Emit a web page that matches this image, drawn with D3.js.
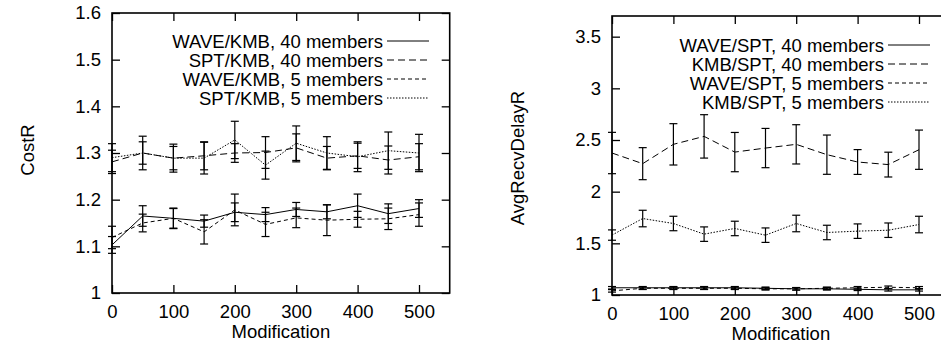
<!DOCTYPE html>
<meta charset="utf-8">
<script src="https://d3js.org/d3.v7.min.js"></script>
<style>
  body { margin: 0; background: #fff; }
  text { font-family: "Liberation Sans", Arial, sans-serif; }
</style>
<div id="chart"></div>
<script>

// x values shared by every series
const modification = [0, 50, 100, 150, 200, 250, 300, 350, 400, 450, 500];

// left panel: CostR
const waveKmb40    = [1.103, 1.165, 1.160, 1.154, 1.173, 1.168, 1.179, 1.174, 1.187, 1.170, 1.181];
const waveKmb40Err = [0.018, 0.022, 0.021, 0.013, 0.020, 0.015, 0.015, 0.015, 0.025, 0.021, 0.019];
const sptKmb40     = [1.281, 1.300, 1.289, 1.294, 1.300, 1.301, 1.311, 1.289, 1.294, 1.285, 1.292];
const sptKmb40Err  = [0.025, 0.024, 0.025, 0.030, 0.020, 0.034, 0.030, 0.025, 0.027, 0.030, 0.028];
const waveKmb5     = [1.119, 1.150, 1.160, 1.131, 1.178, 1.147, 1.161, 1.156, 1.158, 1.159, 1.168];
const waveKmb5Err  = [0.024, 0.019, 0.022, 0.026, 0.034, 0.026, 0.021, 0.033, 0.017, 0.023, 0.025];
const sptKmb5      = [1.290, 1.300, 1.289, 1.289, 1.328, 1.274, 1.321, 1.300, 1.292, 1.305, 1.300];
const sptKmb5Err   = [0.030, 0.036, 0.030, 0.034, 0.040, 0.030, 0.037, 0.035, 0.032, 0.040, 0.040];

// right panel: AvgRecvDelayR
const waveSpt40    = [1.07, 1.07, 1.07, 1.07, 1.07, 1.065, 1.06, 1.06, 1.055, 1.05, 1.05];
const waveSpt40Err = [0.012, 0.012, 0.012, 0.012, 0.012, 0.012, 0.012, 0.012, 0.012, 0.012, 0.012];
const kmbSpt40     = [2.374, 2.271, 2.458, 2.535, 2.383, 2.422, 2.458, 2.358, 2.287, 2.262, 2.406];
const kmbSpt40Err  = [0.20, 0.155, 0.20, 0.21, 0.19, 0.19, 0.19, 0.19, 0.12, 0.12, 0.19];
const waveSpt5     = [1.04, 1.065, 1.065, 1.065, 1.065, 1.06, 1.06, 1.065, 1.07, 1.075, 1.07];
const waveSpt5Err  = [0.012, 0.012, 0.012, 0.012, 0.012, 0.012, 0.012, 0.012, 0.012, 0.012, 0.012];
const kmbSpt5      = [1.58, 1.74, 1.692, 1.589, 1.644, 1.579, 1.692, 1.605, 1.618, 1.627, 1.682];
const kmbSpt5Err   = [0.05, 0.08, 0.07, 0.07, 0.07, 0.07, 0.08, 0.07, 0.07, 0.07, 0.08];

const xTicks = [0, 100, 200, 300, 400, 500];
const costTicks = [1, 1.1, 1.2, 1.3, 1.4, 1.5, 1.6];
const delayTicks = [1, 1.5, 2, 2.5, 3, 3.5];

// gnuplot line types
const dashes = ["none", "7,4", "4,3", "1.5,1.5"];

const svg = d3.select("#chart").append("svg")
    .attr("width", 941)
    .attr("height", 344);

const fontSize = 18.5;

function panel(opt) {
    const x = d3.scaleLinear().domain([0, 550]).range([opt.left, opt.right]);
    const y = d3.scaleLinear().domain(opt.yDomain).range([opt.bottom, opt.top]);
    const g = svg.append("g");

    // axes with inward ticks, gnuplot style
    const ax = (axis, tr, labels) => {
        const a = g.append("g").attr("transform", tr).call(axis);
        a.select(".domain").remove();
        a.selectAll("line").attr("stroke", "#000").attr("stroke-width", 1.3);
        a.selectAll("text").attr("font-size", fontSize).attr("fill", "#000");
        if (!labels) a.selectAll("text").remove();
        return a;
    };
    ax(d3.axisBottom(x).tickValues(xTicks).tickSizeInner(-8).tickPadding(12).tickFormat(d3.format("d")),
        `translate(0,${opt.bottom})`, true);
    ax(d3.axisTop(x).tickValues(xTicks).tickSizeInner(-8), `translate(0,${opt.top})`, false);
    ax(d3.axisLeft(y).tickValues(opt.yTicks).tickSizeInner(-8).tickPadding(11).tickFormat(d => String(d)),
        `translate(${opt.left},0)`, true);
    ax(d3.axisRight(y).tickValues(opt.yTicks).tickSizeInner(-8), `translate(${opt.right},0)`, false);

    g.append("rect")
        .attr("x", opt.left).attr("y", opt.top)
        .attr("width", opt.right - opt.left).attr("height", opt.bottom - opt.top)
        .attr("fill", "none").attr("stroke", "#000").attr("stroke-width", 1.6);

    // axis titles
    g.append("text")
        .attr("x", (opt.left + x(550)) / 2).attr("y", opt.bottom + 45)
        .attr("text-anchor", "middle").attr("font-size", fontSize)
        .text("Modification");
    g.append("text")
        .attr("transform", `translate(${opt.yLabelX},${opt.yLabelY}) rotate(-90)`)
        .attr("text-anchor", "middle").attr("font-size", fontSize)
        .text(opt.yLabel);

    const line = d3.line().x(d => x(d[0])).y(d => y(d[1]));

    opt.series.forEach((s, i) => {
        const pts = modification.map((m, j) => [m, s.values[j], s.err[j]]);
        g.append("path")
            .attr("d", line(pts))
            .attr("fill", "none").attr("stroke", "#000").attr("stroke-width", 1)
            .attr("stroke-dasharray", dashes[i]);

        // error bars
        const eb = g.append("g").attr("stroke", "#000").attr("stroke-width", 1.2);
        pts.forEach(p => {
            const cx = x(p[0]), lo = y(p[1] - p[2]), hi = y(p[1] + p[2]);
            eb.append("line").attr("x1", cx).attr("x2", cx).attr("y1", lo).attr("y2", hi);
            eb.append("line").attr("x1", cx - 4).attr("x2", cx + 4).attr("y1", lo).attr("y2", lo);
            eb.append("line").attr("x1", cx - 4).attr("x2", cx + 4).attr("y1", hi).attr("y2", hi);
        });

        // legend
        const ly = opt.legendY + i * 19;
        g.append("text")
            .attr("x", opt.legendX).attr("y", ly + 6.5)
            .attr("text-anchor", "end").attr("font-size", fontSize)
            .text(s.name);
        g.append("line")
            .attr("x1", opt.legendX + 4).attr("x2", opt.legendX + 46)
            .attr("y1", ly).attr("y2", ly)
            .attr("stroke", "#000").attr("stroke-width", 1)
            .attr("stroke-dasharray", dashes[i]);
    });
}

panel({
    left: 112, right: 449.7, top: 13, bottom: 293,
    yDomain: [1, 1.6], yTicks: costTicks,
    yLabel: "CostR", yLabelX: 34, yLabelY: 150,
    legendX: 383, legendY: 41,
    series: [
        {name: "WAVE/KMB, 40 members", values: waveKmb40, err: waveKmb40Err},
        {name: "SPT/KMB, 40 members", values: sptKmb40, err: sptKmb40Err},
        {name: "WAVE/KMB, 5 members", values: waveKmb5, err: waveKmb5Err},
        {name: "SPT/KMB, 5 members", values: sptKmb5, err: sptKmb5Err}
    ]
});

panel({
    left: 612, right: 949.7, top: 16, bottom: 295,
    yDomain: [1, 3.7], yTicks: delayTicks,
    yLabel: "AvgRecvDelayR", yLabelX: 524, yLabelY: 158,
    legendX: 884, legendY: 45,
    series: [
        {name: "WAVE/SPT, 40 members", values: waveSpt40, err: waveSpt40Err},
        {name: "KMB/SPT, 40 members", values: kmbSpt40, err: kmbSpt40Err},
        {name: "WAVE/SPT, 5 members", values: waveSpt5, err: waveSpt5Err},
        {name: "KMB/SPT, 5 members", values: kmbSpt5, err: kmbSpt5Err}
    ]
});

</script>
